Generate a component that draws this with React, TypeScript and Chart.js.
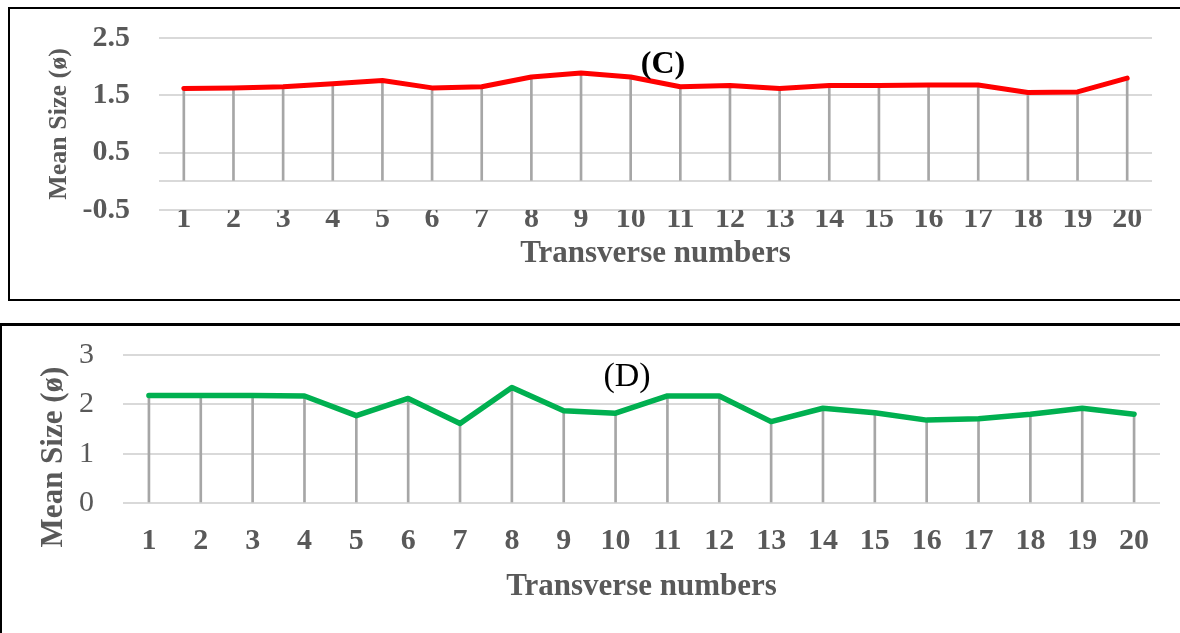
import React, { useEffect, useRef } from "react";
import { Chart, registerables } from "chart.js";

Chart.register(...registerables);

// Transverse numbers shared by both panels
const transverseLabels = [
  "1", "2", "3", "4", "5", "6", "7", "8", "9", "10",
  "11", "12", "13", "14", "15", "16", "17", "18", "19", "20",
];

// Panel (C): mean size per transverse
const meanSizeC = [
  1.62, 1.63, 1.65, 1.7, 1.76, 1.63, 1.65, 1.82, 1.89, 1.82,
  1.65, 1.67, 1.62, 1.67, 1.67, 1.68, 1.68, 1.55, 1.56, 1.8,
];
// y ticks for (C); 0 carries the baseline rule only
const ticksC = [-0.5, 0, 0.5, 1.5, 2.5];

// Panel (D): mean size per transverse
const meanSizeD = [
  2.18, 2.18, 2.18, 2.17, 1.77, 2.12, 1.61, 2.34, 1.87, 1.82,
  2.17, 2.17, 1.65, 1.92, 1.83, 1.68, 1.71, 1.8, 1.92, 1.8,
];
const ticksD = [0, 1, 2, 3];

const SERIF = "'Liberation Serif', 'Times New Roman', serif";
const TICK_GRAY = "#595959";
const GRID_GRAY = "#D9D9D9";
const DROP_GRAY = "#A6A6A6";

// Draws free-standing text items (panel letters, side titles)
const panelTextPlugin = {
  id: "panelText",
  afterDraw(chart: any, _args: any, opts: any) {
    const ctx = chart.ctx;
    for (const t of opts.items || []) {
      ctx.save();
      ctx.font = t.font;
      ctx.fillStyle = t.color;
      ctx.textAlign = "center";
      ctx.textBaseline = t.baseline || "alphabetic";
      ctx.translate(t.x, t.y);
      if (t.rotate) ctx.rotate(t.rotate);
      ctx.fillText(t.text, 0, 0);
      ctx.restore();
    }
  },
};

function makeConfig(p: any) {
  return {
    type: "bar",
    data: {
      labels: transverseLabels,
      datasets: [
        {
          type: "line",
          data: p.values,
          borderColor: p.color,
          borderWidth: p.lineWidth,
          pointRadius: 0,
          tension: 0,
          borderCapStyle: "round",
          borderJoinStyle: "round",
          order: 1,
        },
        {
          type: "bar",
          data: p.values,
          backgroundColor: DROP_GRAY,
          barThickness: 2,
          order: 2,
        },
      ],
    },
    options: {
      responsive: false,
      animation: false,
      events: [],
      layout: { padding: p.padding },
      plugins: {
        legend: { display: false },
        tooltip: { enabled: false },
        panelText: { items: p.texts },
      },
      scales: {
        x: {
          type: "category",
          offset: true,
          grid: { display: false, drawTicks: false },
          border: { display: false },
          ticks: {
            color: TICK_GRAY,
            padding: p.xTickPad,
            maxRotation: 0,
            autoSkip: false,
            font: { family: SERIF, size: 30, weight: "bold", lineHeight: 0.6 },
          },
          title: {
            display: true,
            text: "Transverse numbers",
            color: TICK_GRAY,
            padding: { top: 0, bottom: p.xTitlePad },
            font: { family: SERIF, size: 31, weight: "bold" },
          },
          afterFit: (s: any) => {
            s.height = p.xHeight;
          },
        },
        y: {
          type: "linear",
          min: p.min,
          max: p.max,
          afterBuildTicks: (s: any) => {
            s.ticks = p.ticks.map((v: number) => ({ value: v }));
          },
          grid: { color: GRID_GRAY, lineWidth: 2, drawTicks: false },
          border: { display: false },
          ticks: {
            color: TICK_GRAY,
            padding: 29,
            callback: (v: number) => (p.hideZero && v === 0 ? "" : String(v)),
            font: { family: SERIF, size: 30, weight: p.yTickWeight, lineHeight: 0.3 },
          },
          title: p.yTitle
            ? {
                display: true,
                text: "Mean Size (ø)",
                color: TICK_GRAY,
                padding: { top: p.yTitlePad, bottom: 0 },
                font: { family: SERIF, size: 26, weight: "bold" },
              }
            : { display: false },
          afterFit: (s: any) => {
            s.width = p.yWidth;
          },
        },
      },
    },
    plugins: [panelTextPlugin],
  };
}

function PanelChart(props: { cfg: any; width: number; height: number; top: number }) {
  const ref = useRef<HTMLCanvasElement | null>(null);
  useEffect(() => {
    if (!ref.current) return;
    const chart = new Chart(ref.current, props.cfg);
    return () => chart.destroy();
  }, []);
  return (
    <canvas
      ref={ref}
      width={props.width}
      height={props.height}
      style={{ position: "absolute", left: 0, top: props.top, width: props.width, height: props.height }}
    />
  );
}

const cfgC = makeConfig({
  values: meanSizeC,
  color: "#FF0000",
  lineWidth: 5,
  min: -0.5,
  max: 2.5,
  ticks: ticksC,
  hideZero: true,
  padding: { left: 0, right: 28, top: 38, bottom: 0 },
  xHeight: 90,
  xTickPad: 0,
  xTitlePad: 27,
  yWidth: 159,
  yTickWeight: "bold",
  yTitle: true,
  yTitlePad: 44,
  texts: [
    { text: "(C)", x: 663, y: 73, font: `bold 32px ${SERIF}`, color: "#000000" },
  ],
});

const cfgD = makeConfig({
  values: meanSizeD,
  color: "#00B050",
  lineWidth: 5.5,
  min: 0,
  max: 3,
  ticks: ticksD,
  hideZero: false,
  padding: { left: 0, right: 20, top: 40, bottom: 0 },
  xHeight: 130,
  xTickPad: 29,
  xTitlePad: 27,
  yWidth: 123,
  yTickWeight: "normal",
  yTitle: false,
  yTitlePad: 0,
  texts: [
    { text: "(D)", x: 627, y: 71, font: `34px ${SERIF}`, color: "#000000" },
    {
      text: "Mean Size (ø)",
      x: 54,
      y: 142,
      rotate: -Math.PI / 2,
      baseline: "middle",
      font: `bold 31px ${SERIF}`,
      color: TICK_GRAY,
    },
  ],
});

export default function App() {
  return (
    <div
      style={{
        position: "fixed",
        left: 0,
        top: 0,
        width: 1180,
        height: 633,
        overflow: "hidden",
        background: "#ffffff",
      }}
    >
      <div
        style={{
          position: "absolute",
          left: 8,
          top: 7,
          width: 1200,
          height: 294,
          boxSizing: "border-box",
          border: "2px solid #000",
        }}
      />
      <div
        style={{
          position: "absolute",
          left: 0,
          top: 323,
          width: 1200,
          height: 400,
          boxSizing: "border-box",
          borderTop: "3px solid #000",
          borderLeft: "2px solid #000",
        }}
      />
      <PanelChart cfg={cfgC} width={1180} height={300} top={0} />
      <PanelChart cfg={cfgD} width={1180} height={318} top={315} />
    </div>
  );
}
